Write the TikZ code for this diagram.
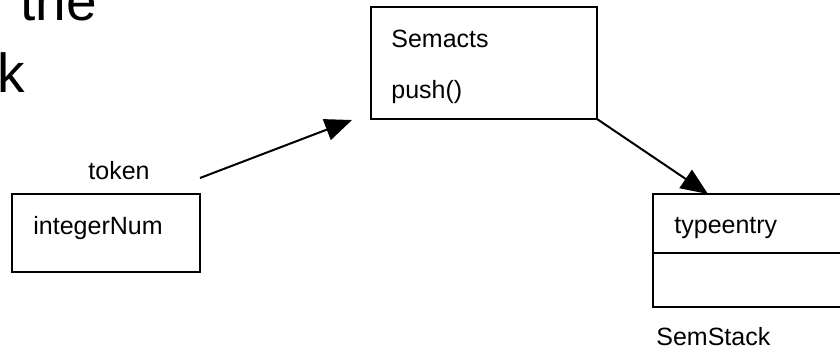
\documentclass[tikz,border=0pt]{standalone}
\usepackage{fontspec}
\setmainfont{Liberation Sans}
\usetikzlibrary{arrows.meta,positioning}
\tikzset{classbox/.style={rectangle,draw=black,line width=1pt,fill=none,inner sep=0pt,outer sep=0pt,anchor=north west}}
\tikzset{umltext/.style={inner sep=0pt,anchor=base west,font=\fontsize{12.5}{15}\selectfont}}
\tikzset{bigtext/.style={inner sep=0pt,anchor=base west,font=\fontsize{27.5}{33}\selectfont}}
\tikzset{toArrow/.style={-{Triangle[length=13.5pt,width=11pt]},line width=1pt}}

\begin{document}
\begin{tikzpicture}[x=0.5pt,y=-0.5pt]
\useasboundingbox (0,0) rectangle (840,349);
	\node (the) [bigtext] at (20,20) {the} ;
	\node (stack) [bigtext] at (-3,92) {k} ;
	\node (semacts) [classbox, minimum width=113pt, minimum height=56pt] at (371,7) {} ;
	\node (semname) [umltext] at (391,47) {Semacts} ;
	\node (push) [umltext] at (391,98) {push()} ;
	\node (intnum) [classbox, minimum width=94pt, minimum height=39pt] at (12,194) {} ;
	\node (intname) [umltext] at (33,234) {integerNum} ;
	\node (token) [umltext] at (88,179) {token} ;
	\node (typeentry) [classbox, minimum width=100pt, minimum height=29.5pt] at (653,194) {} ;
	\node (stackrest) [classbox, minimum width=100pt, minimum height=27pt, below=0pt of typeentry] {} ;
	\node (typename) [umltext] at (674,233) {typeentry} ;
	\node (semstack) [umltext] at (656,345) {SemStack} ;
	\coordinate (tokout) at (200,178) ;
	\coordinate (semin) at (352,120) ;
	\coordinate (stackin) at (708,194) ;
	\draw [toArrow] (tokout) -- (semin) ;
	\draw [toArrow] (semacts.south east) -- (stackin) ;
\end{tikzpicture}
\end{document}
